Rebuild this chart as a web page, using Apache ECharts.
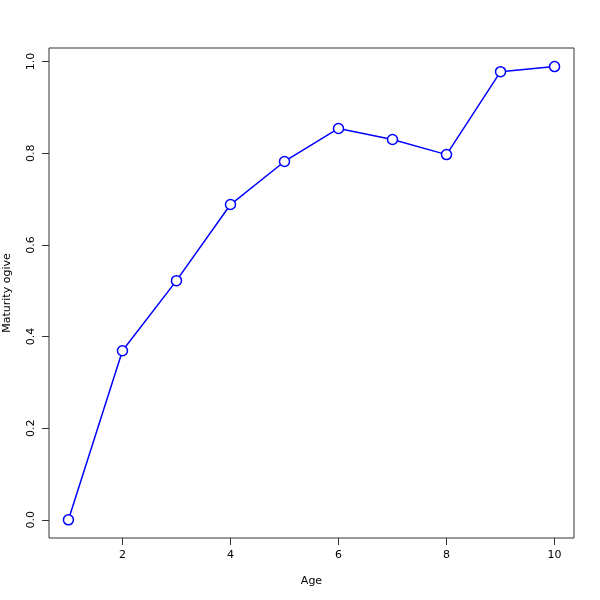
<!DOCTYPE html>
<html><head><meta charset="utf-8">
<script src="https://cdn.jsdelivr.net/npm/echarts@6/dist/echarts.min.js"></script>
<style>html,body{margin:0;padding:0;background:#fff}#c{width:600px;height:600px}</style>
</head><body><div id="c"></div>
<script>
const ages = [1,2,3,4,5,6,7,8,9,10];
const ogive = [0.0,0.369,0.522,0.688,0.782,0.854,0.830,0.797,0.978,0.989];
const xTicks = [2,4,6,8,10];
const yTicks = [0,0.2,0.4,0.6,0.8,1.0];
const xTitle = 'Age';
const yTitle = 'Maturity ogive';

const chart = echarts.init(document.getElementById('c'));
const font = 'DejaVu Sans, sans-serif';
chart.setOption({
  animation:false,
  backgroundColor:'#fff',
  grid:{left:49,right:26,top:48,bottom:62,containLabel:false,outerBoundsMode:'none',show:true,borderColor:'#333',borderWidth:1,backgroundColor:'transparent'},
  xAxis:{type:'value',min:0.64,max:10.36,
    axisLine:{show:false,onZero:false},
    splitLine:{show:false},
    axisTick:{show:true,length:7,inside:false,customValues:xTicks,lineStyle:{color:'#333'}},
    axisLabel:{customValues:xTicks,margin:12,color:'#000',fontSize:11,fontFamily:font,formatter:v=>String(v)},
    name:xTitle,nameLocation:'middle',nameGap:38,nameTextStyle:{color:'#000',fontSize:11,fontFamily:font}
  },
  yAxis:{type:'value',min:-0.0396,max:1.0296,
    axisLine:{show:false,onZero:false},
    splitLine:{show:false},
    axisTick:{show:true,length:7,customValues:yTicks,lineStyle:{color:'#333'}},
    axisLabel:{customValues:yTicks,rotate:90,margin:12,color:'#000',fontSize:11,fontFamily:font,formatter:v=>v.toFixed(1)},
    name:yTitle,nameLocation:'middle',nameGap:36,nameRotate:90,nameTextStyle:{color:'#000',fontSize:11,fontFamily:font}
  },
  series:[{type:'line',data:ages.map((a,i)=>[a,ogive[i]]),
    symbol:'circle',symbolSize:10,showAllSymbol:true,
    lineStyle:{color:'#0000FF',width:1.5},
    itemStyle:{color:'#fff',borderColor:'#0000FF',borderWidth:1.5}
  }]
});
</script></body></html>
